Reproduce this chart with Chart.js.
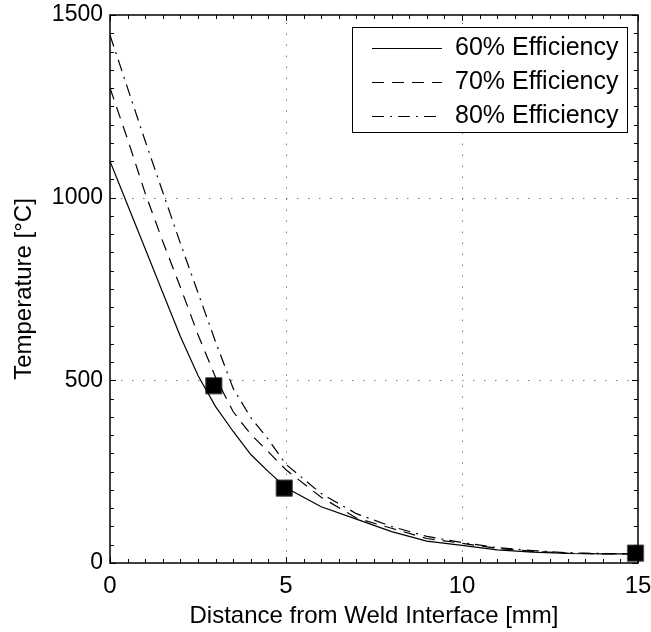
<!DOCTYPE html>
<html>
<head>
<meta charset="utf-8">
<script src="https://cdn.jsdelivr.net/npm/chart.js@4.4.1/dist/chart.umd.min.js"></script>
<style>
  html, body { margin: 0; padding: 0; background: #fff; }
  #wrap { width: 651px; height: 632px; }
</style>
</head>
<body>
<div id="wrap"><canvas id="grafico" width="651" height="632"></canvas></div>
<script>
// datos
const distancia = [0, 0.5, 1, 1.5, 2, 2.5, 3, 3.5, 4, 4.5, 5, 6, 7, 8, 9, 10, 11, 12, 13, 14, 15];
const ef60 = [1100, 980, 860, 740, 620, 513, 428, 360, 297, 250, 206, 154, 120, 86, 60, 48, 36, 30, 26, 25, 25];
const ef70 = [1300, 1160, 1012, 880, 755, 625, 508, 414, 352, 304, 255, 180, 123, 95, 67, 54, 40, 32, 27, 25, 25];
const ef80 = [1445, 1300, 1155, 1015, 875, 740, 605, 478, 398, 338, 270, 190, 135, 100, 73, 56, 42, 34, 28, 26, 25];
const medidaX = [2.95, 4.95, 14.93];
const medidaY = [485, 205, 27];
const etiquetas = ['60% Efficiency', '70% Efficiency', '80% Efficiency'];
const ticksX = [0, 5, 10, 15];
const ticksY = [0, 500, 1000, 1500];

const fuente = 'Liberation Sans, Arial, sans-serif';
const tam = 24;
const guiones = [[], [12, 8], [12, 6, 2, 6]];

function puntos(xs, ys) {
  return xs.map((x, i) => ({ x: x, y: ys[i] }));
}

// rejilla punteada, caja y marcas hacia adentro (estilo matlab)
const ejesMatlab = {
  id: 'ejesMatlab',
  beforeDatasetsDraw(chart) {
    const ctx = chart.ctx;
    const a = chart.chartArea;
    const sx = chart.scales.x;
    const sy = chart.scales.y;
    ctx.save();
    ctx.strokeStyle = '#777';
    ctx.lineWidth = 1;
    ctx.setLineDash([1.5, 9.5]);
    ticksX.slice(1, -1).forEach(v => {
      const px = Math.round(sx.getPixelForValue(v)) + 0.5;
      ctx.beginPath(); ctx.moveTo(px, a.bottom); ctx.lineTo(px, a.top); ctx.stroke();
    });
    ticksY.slice(1, -1).forEach(v => {
      const py = Math.round(sy.getPixelForValue(v)) + 0.5;
      ctx.beginPath(); ctx.moveTo(a.left, py); ctx.lineTo(a.right, py); ctx.stroke();
    });
    ctx.restore();
  },
  afterDatasetsDraw(chart) {
    const ctx = chart.ctx;
    const a = chart.chartArea;
    const sx = chart.scales.x;
    const sy = chart.scales.y;
    ctx.save();
    ctx.strokeStyle = '#000';
    ctx.setLineDash([]);
    ctx.lineWidth = 1.5;
    ctx.strokeRect(a.left, a.top, a.right - a.left, a.bottom - a.top);
    ctx.lineWidth = 1;
    for (let v = 0; v <= 15; v += 0.5) {
      const px = Math.round(sx.getPixelForValue(v)) + 0.5;
      const l = v % 5 === 0 ? 6 : 4;
      ctx.beginPath();
      ctx.moveTo(px, a.bottom); ctx.lineTo(px, a.bottom - l);
      ctx.moveTo(px, a.top); ctx.lineTo(px, a.top + l);
      ctx.stroke();
    }
    for (let v = 0; v <= 1500; v += 50) {
      const py = Math.round(sy.getPixelForValue(v)) + 0.5;
      const l = v % 500 === 0 ? 6 : 4;
      ctx.beginPath();
      ctx.moveTo(a.left, py); ctx.lineTo(a.left + l, py);
      ctx.moveTo(a.right, py); ctx.lineTo(a.right - l, py);
      ctx.stroke();
    }
    // leyenda
    const lx = 352, ly = 27, lw = 275, lh = 105;
    ctx.fillStyle = '#fff';
    ctx.fillRect(lx, ly, lw, lh);
    ctx.lineWidth = 1;
    ctx.strokeRect(lx + 0.5, ly + 0.5, lw, lh);
    ctx.font = '25px ' + fuente;
    ctx.textBaseline = 'middle';
    ctx.fillStyle = '#000';
    etiquetas.forEach((t, i) => {
      const y = ly + 21 + i * 34 + 0.5;
      ctx.setLineDash(guiones[i]);
      ctx.beginPath(); ctx.moveTo(372, y); ctx.lineTo(442, y); ctx.stroke();
      ctx.setLineDash([]);
      ctx.fillText(t, 455, y);
    });
    ctx.restore();
  }
};

const series = [ef60, ef70, ef80].map((d, i) => ({
  label: etiquetas[i],
  data: puntos(distancia, d),
  borderColor: '#000',
  borderWidth: 1.2,
  borderDash: guiones[i],
  pointRadius: 0,
  tension: 0,
  fill: false
}));

series.push({
  label: 'medido',
  data: puntos(medidaX, medidaY),
  showLine: false,
  clip: false,
  pointStyle: 'rect',
  pointRadius: 11.5,
  backgroundColor: '#000',
  borderColor: '#555',
  borderWidth: 1
});

new Chart(document.getElementById('grafico'), {
  type: 'line',
  data: { datasets: series },
  options: {
    responsive: false,
    animation: false,
    layout: { padding: { left: 0, right: 13, top: 15, bottom: 0 } },
    plugins: {
      legend: { display: false },
      tooltip: { enabled: false }
    },
    scales: {
      x: {
        type: 'linear',
        min: 0,
        max: 15,
        afterBuildTicks: s => { s.ticks = ticksX.map(v => ({ value: v })); },
        afterFit: s => { s.height = 69; s.paddingLeft = 0; s.paddingRight = 0; },
        grid: { display: false, drawTicks: false },
        border: { display: false },
        ticks: {
          color: '#000',
          font: { family: fuente, size: tam },
          padding: 9,
          maxRotation: 0,
          callback: v => String(v)
        },
        title: {
          display: true,
          text: 'Distance from Weld Interface [mm]',
          color: '#000',
          font: { family: fuente, size: tam },
          padding: { top: 2, bottom: 1 }
        }
      },
      y: {
        type: 'linear',
        min: 0,
        max: 1500,
        afterBuildTicks: s => { s.ticks = ticksY.map(v => ({ value: v })); },
        afterFit: s => { s.width = 110; s.paddingTop = 0; s.paddingBottom = 0; },
        grid: { display: false, drawTicks: false },
        border: { display: false },
        ticks: {
          color: '#000',
          font: { family: fuente, size: 23 },
          padding: 7,
          callback: v => String(v)
        },
        title: {
          display: true,
          text: 'Temperature [°C]',
          color: '#000',
          font: { family: fuente, size: tam },
          padding: { top: 10, bottom: 0 }
        }
      }
    }
  },
  plugins: [ejesMatlab]
});
</script>
</body>
</html>
